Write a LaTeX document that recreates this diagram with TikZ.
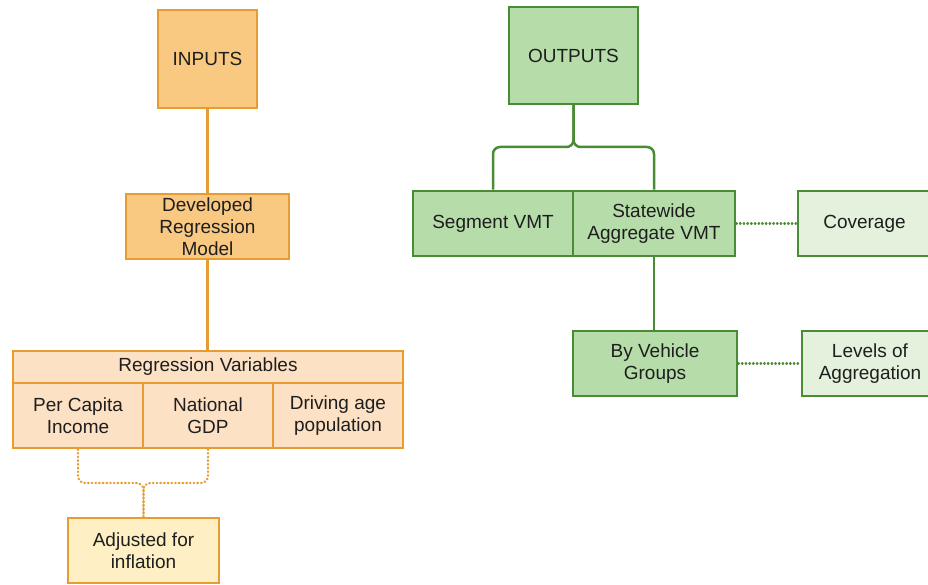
\documentclass[tikz,border=0pt]{standalone}
\usepackage{fontspec}
\setmainfont{Liberation Sans}
\definecolor{orline}{HTML}{E89C30}
\definecolor{orfill}{HTML}{F9C981}
\definecolor{peach}{HTML}{FCE1C4}
\definecolor{paleyel}{HTML}{FEF0C4}
\definecolor{grline}{HTML}{4A8B36}
\definecolor{grfill}{HTML}{B5DCA9}
\definecolor{grpale}{HTML}{E3F1DD}
\definecolor{txt}{HTML}{1E1E1E}
\tikzset{
  box/.style={draw, line width=2.5pt, rectangle, align=center, inner sep=2pt,
    text=txt, font=\fontsize{19}{22}\selectfont},
  obox/.style={box, draw=orline, fill=orfill},
  pbox/.style={box, draw=orline, fill=peach},
  ybox/.style={box, draw=orline, fill=paleyel},
  gbox/.style={box, draw=grline, fill=grfill},
  lgbox/.style={box, draw=grline, fill=grpale},
  oline/.style={draw=orline, line width=2.5pt},
  gline/.style={draw=grline, line width=2.5pt},
  dotline/.style={line width=2.3pt, line cap=round, dash pattern=on 0.6pt off 3.1pt},
}
\begin{document}
\begin{tikzpicture}[x=1pt, y=-1pt]
\useasboundingbox (0,0) rectangle (928,585);
\clip (0,0) rectangle (928,585);

% input side
\node[obox, minimum width=99pt, minimum height=98pt] (inputs) at (207.5,59) {INPUTS};
\node[obox, minimum width=163pt, minimum height=65pt] (model) at (207.5,226.5) {Developed\\Regression\\Model};
\node[pbox, minimum width=390pt, minimum height=32pt] (rv) at (208,367) {Regression Variables};
\node[pbox, minimum width=130pt, minimum height=65pt] (pc) at (78,415.5) {Per Capita\\Income};
\node[pbox, minimum width=130pt, minimum height=65pt] (gdp) at (208,415.5) {National\\GDP};
\node[pbox, minimum width=130pt, minimum height=65pt] (dap) at (338,415.5) {Driving age\\population};
\node[ybox, minimum width=151pt, minimum height=65pt] (adj) at (143.5,550.5) {Adjusted for\\inflation};

\draw[oline] (inputs.south) -- (model.north);
\draw[oline] (model.south) -- (model.south |- rv.north);
\coordinate (ojoin) at (143.5,483);
\draw[oline, dotline, rounded corners=7pt] (pc.south) |- (ojoin) -- (adj.north);
\draw[oline, dotline, rounded corners=7pt] (gdp.south) |- (ojoin) -- (adj.north);

% output side
\node[gbox, minimum width=129pt, minimum height=97pt] (outputs) at (573.5,55.5) {OUTPUTS};
\node[gbox, minimum width=160pt, minimum height=65pt] (seg) at (493,223.5) {Segment VMT};
\node[gbox, minimum width=162pt, minimum height=65pt] (state) at (654,223.5) {Statewide\\Aggregate VMT};
\node[lgbox, minimum width=133pt, minimum height=65pt] (cov) at (864.5,223.5) {Coverage};
\node[gbox, minimum width=164pt, minimum height=65pt] (veh) at (655,363.5) {By Vehicle\\Groups};
\node[lgbox, minimum width=136pt, minimum height=65pt] (lev) at (870,363.5) {Levels of\\Aggregation};

\coordinate (gjoin) at (573.5,147);
\draw[gline, rounded corners=7pt] (outputs.south) -- (gjoin) -| (seg.north);
\draw[gline, rounded corners=7pt] (outputs.south) -- (gjoin) -| (state.north);
\draw[gline] (state.south) -- (state.south |- veh.north);
\draw[gline, dotline] (state.east) -- (cov.west);
\draw[gline, dotline] (veh.east) -- (lev.west);
\end{tikzpicture}
\end{document}
